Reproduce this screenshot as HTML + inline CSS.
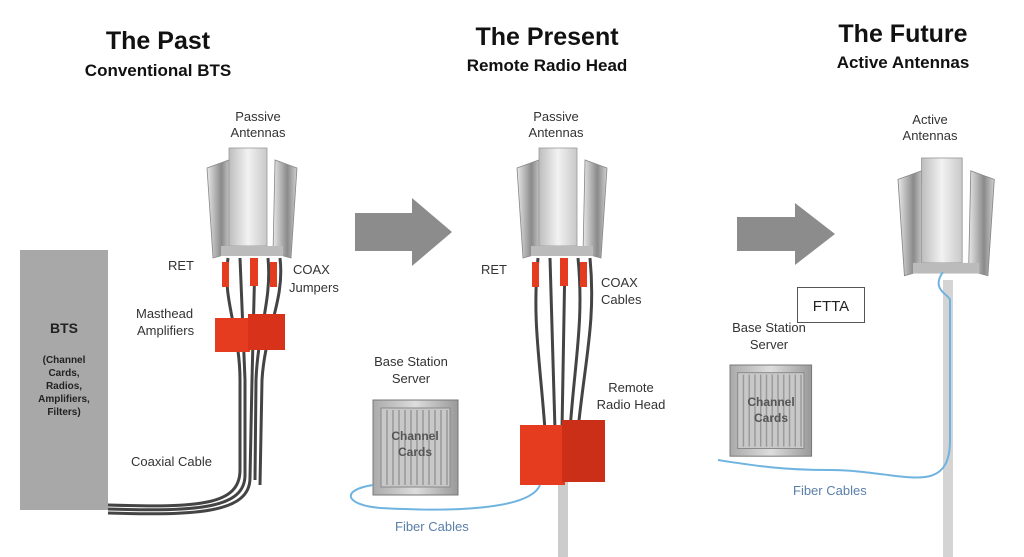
<!DOCTYPE html>
<html><head><meta charset="utf-8"><style>
html,body{margin:0;padding:0;background:#fff;width:1024px;height:557px;overflow:hidden}
svg text{font-family:"Liberation Sans",Arial,sans-serif}
</style></head><body>
<svg width="1024" height="557" viewBox="0 0 1024 557" xmlns="http://www.w3.org/2000/svg">
<defs>
<linearGradient id="pan" x1="0" x2="1"><stop offset="0" stop-color="#bdbdbd"/><stop offset=".5" stop-color="#f2f2f2"/><stop offset="1" stop-color="#c8c8c8"/></linearGradient>
<linearGradient id="side" x1="0" x2="1"><stop offset="0" stop-color="#e8e8e8"/><stop offset=".6" stop-color="#8a8a8a"/><stop offset="1" stop-color="#d0d0d0"/></linearGradient>
<linearGradient id="box" x1="0" x2="1"><stop offset="0" stop-color="#aaa"/><stop offset=".5" stop-color="#ddd"/><stop offset="1" stop-color="#999"/></linearGradient>
<g id="ant">
  <path d="M0 20 L22 12 L24 105 L6 110 Z" fill="url(#side)" stroke="#888" stroke-width=".8"/>
  <path d="M90 20 L68 12 L66 105 L84 110 Z" fill="url(#side)" stroke="#888" stroke-width=".8"/>
  <rect x="22" y="0" width="38" height="98" fill="url(#pan)" stroke="#999" stroke-width=".8"/>
  <rect x="14" y="98" width="62" height="10" fill="#bbb"/>
</g>
<g id="srv">
  <rect x="0" y="0" width="85" height="95" fill="url(#box)" stroke="#777"/>
  <rect x="8" y="8" width="69" height="79" fill="#c8c8c8" stroke="#888"/>
  <g stroke="#999" stroke-width="1.5">
  <line x1="14" y1="10" x2="14" y2="85"/><line x1="20" y1="10" x2="20" y2="85"/><line x1="26" y1="10" x2="26" y2="85"/><line x1="32" y1="10" x2="32" y2="85"/><line x1="38" y1="10" x2="38" y2="85"/><line x1="44" y1="10" x2="44" y2="85"/><line x1="50" y1="10" x2="50" y2="85"/><line x1="56" y1="10" x2="56" y2="85"/><line x1="62" y1="10" x2="62" y2="85"/><line x1="68" y1="10" x2="68" y2="85"/><line x1="74" y1="10" x2="74" y2="85"/></g>
</g>
</defs>

<!-- titles -->
<g font-weight="bold" fill="#111" text-anchor="middle">
<text x="158" y="49" font-size="25">The Past</text>
<text x="158" y="76" font-size="17">Conventional BTS</text>
<text x="547" y="45" font-size="25">The Present</text>
<text x="547" y="71" font-size="17">Remote Radio Head</text>
<text x="903" y="42" font-size="25">The Future</text>
<text x="903" y="68" font-size="17">Active Antennas</text>
</g>

<!-- PAST -->
<rect x="20" y="250" width="88" height="260" fill="#a8a8a8"/>
<text x="64" y="333" font-size="14" font-weight="bold" text-anchor="middle" fill="#222">BTS</text>
<g font-size="10" font-weight="bold" text-anchor="middle" fill="#222">
<text x="64" y="363">(Channel</text><text x="64" y="376">Cards,</text><text x="64" y="389">Radios,</text><text x="64" y="402">Amplifiers,</text><text x="64" y="415">Filters)</text></g>
<g fill="none" stroke="#444" stroke-width="3">
<path d="M228 258 C222 300 240 330 240 380 L240 470 C240 505 200 508 108 505"/>
<path d="M240 258 L245 380 L245 475 C245 508 200 512 108 509"/>
<path d="M255 258 L252 380 L250 478 C250 512 200 516 108 513"/>
<path d="M268 258 C272 300 258 330 256 380 L255 480"/>
<path d="M280 258 C285 300 265 330 262 380 L260 485"/>
</g>
<use href="#ant" x="207" y="148"/>
<rect x="222" y="262" width="7" height="25" fill="#e53b1e"/>
<rect x="250" y="258" width="8" height="28" fill="#e53b1e"/>
<rect x="270" y="262" width="7" height="25" fill="#e53b1e"/>
<rect x="215" y="318" width="35" height="34" fill="#e53b1e"/>
<rect x="248" y="314" width="37" height="36" fill="#d8331a"/>
<g font-size="13" fill="#333">
<text x="258" y="121" text-anchor="middle">Passive</text><text x="258" y="137" text-anchor="middle">Antennas</text>
<text x="168" y="270">RET</text>
<text x="293" y="274">COAX</text><text x="289" y="292">Jumpers</text>
<text x="136" y="318">Masthead</text><text x="137" y="335">Amplifiers</text>
<text x="131" y="466">Coaxial Cable</text>
</g>

<!-- arrow 1 -->
<path d="M355 213 L412 213 L412 198 L452 232 L412 266 L412 251 L355 251 Z" fill="#8c8c8c"/>

<!-- PRESENT -->
<rect x="558" y="480" width="10" height="77" fill="#ccc"/>
<g fill="none" stroke="#444" stroke-width="3">
<path d="M538 258 C532 320 540 360 545 430"/><path d="M550 258 L555 430"/><path d="M565 258 L562 430"/><path d="M578 258 C584 320 575 360 570 430"/><path d="M590 258 C596 320 585 360 578 430"/>
</g>
<use href="#ant" x="517" y="148"/>
<rect x="532" y="262" width="7" height="25" fill="#e53b1e"/>
<rect x="560" y="258" width="8" height="28" fill="#e53b1e"/>
<rect x="580" y="262" width="7" height="25" fill="#e53b1e"/>
<rect x="520" y="425" width="45" height="60" fill="#e53b1e"/>
<rect x="562" y="420" width="43" height="62" fill="#cc2f17"/>
<use href="#srv" x="373" y="400"/>
<text x="415" y="440" font-size="12" font-weight="bold" fill="#555" text-anchor="middle">Channel</text>
<text x="415" y="456" font-size="12" font-weight="bold" fill="#555" text-anchor="middle">Cards</text>
<path d="M373 485 C340 490 345 505 380 508 C450 512 530 510 540 485" fill="none" stroke="#6fb3e0" stroke-width="2"/>
<g font-size="13" fill="#333">
<text x="556" y="121" text-anchor="middle">Passive</text><text x="556" y="137" text-anchor="middle">Antennas</text>
<text x="481" y="274">RET</text>
<text x="601" y="287">COAX</text><text x="601" y="304">Cables</text>
<text x="411" y="366" text-anchor="middle">Base Station</text><text x="411" y="383" text-anchor="middle">Server</text>
<text x="631" y="392" text-anchor="middle">Remote</text><text x="631" y="409" text-anchor="middle">Radio Head</text>
<text x="395" y="531" fill="#5a7fa8">Fiber Cables</text>
</g>

<!-- arrow 2 -->
<path d="M737 217 L795 217 L795 203 L835 234 L795 265 L795 251 L737 251 Z" fill="#8c8c8c"/>

<!-- FUTURE -->
<rect x="943" y="280" width="10" height="277" fill="#d4d4d4"/>
<use href="#ant" x="898" y="158" transform="translate(898 158) scale(1.07) translate(-898 -158)"/>
<path d="M943 272 C930 290 950 295 950 300" fill="none" stroke="#6fb3e0" stroke-width="2"/>
<path d="M950 300 L950 440 C950 500 900 470 830 470 C780 470 750 465 718 460" fill="none" stroke="#6fb3e0" stroke-width="2"/>
<use href="#srv" x="730" y="365" transform="translate(730 365) scale(0.96) translate(-730 -365)"/>
<text x="771" y="406" font-size="12" font-weight="bold" fill="#555" text-anchor="middle">Channel</text>
<text x="771" y="422" font-size="12" font-weight="bold" fill="#555" text-anchor="middle">Cards</text>
<rect x="797.5" y="287.5" width="67" height="35" fill="#fff" stroke="#555"/>
<text x="831" y="311" font-size="15" fill="#222" text-anchor="middle">FTTA</text>
<g font-size="13" fill="#333">
<text x="930" y="124" text-anchor="middle">Active</text><text x="930" y="140" text-anchor="middle">Antennas</text>
<text x="769" y="332" text-anchor="middle">Base Station</text><text x="769" y="349" text-anchor="middle">Server</text>
<text x="793" y="495" fill="#5a7fa8">Fiber Cables</text>
</g>
</svg>
</body></html>
